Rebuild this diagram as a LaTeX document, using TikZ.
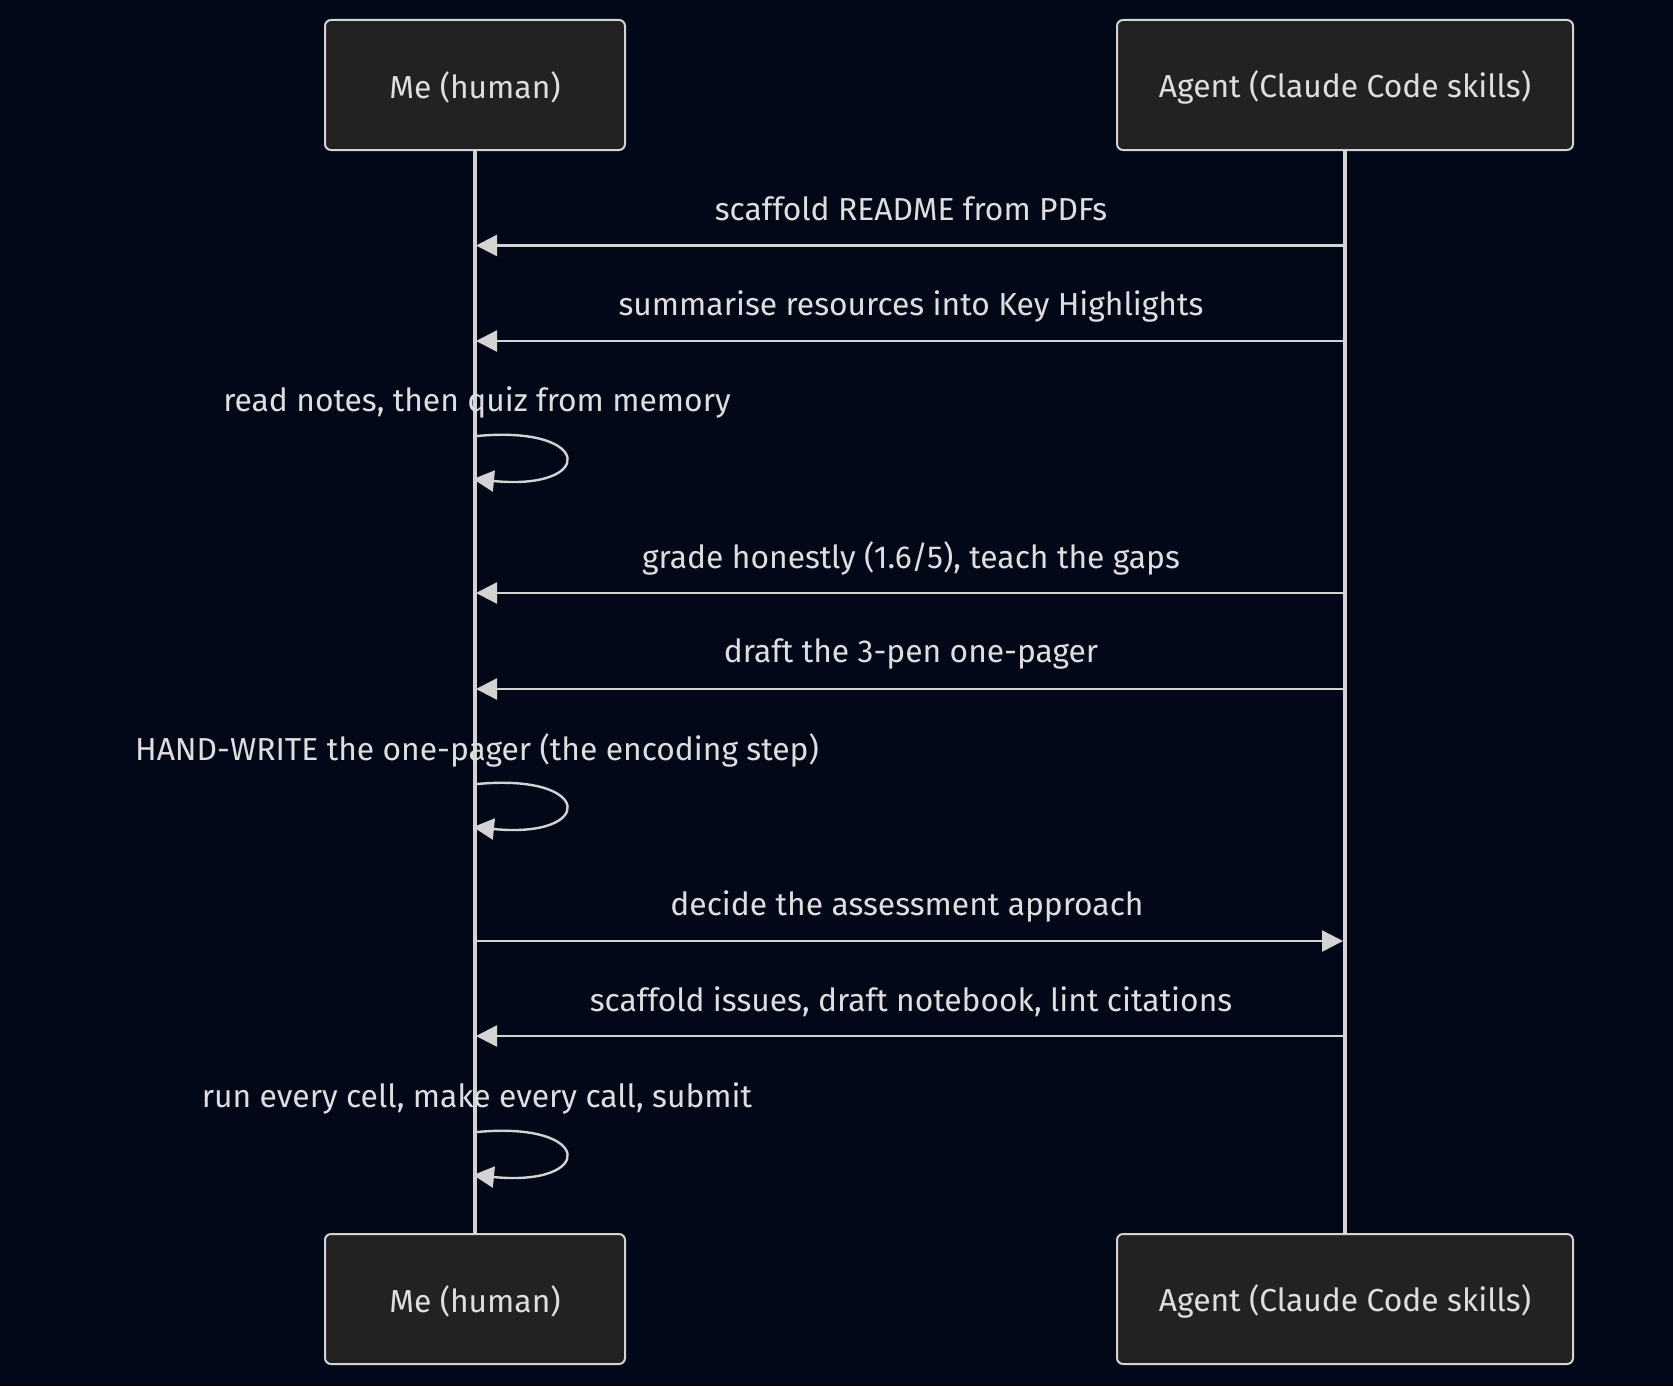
\documentclass[tikz,border=0pt]{standalone}
\usepackage{fontspec}
\setmainfont{Fira Sans}
\usetikzlibrary{arrows.meta}
\definecolor{bg}{RGB}{2,8,23}
\definecolor{boxfill}{RGB}{34,34,34}
\definecolor{ink}{RGB}{211,211,211}
\definecolor{txt}{RGB}{222,222,222}
\tikzset{
  px/.style={x=0.5pt,y=-0.5pt},
  actor/.style={draw=ink,line width=1pt,fill=boxfill,rounded corners=3pt,minimum height=65pt},
  life/.style={draw=ink,line width=1.6pt},
  msg/.style={draw=ink,line width=1.2pt,-{Triangle[length=10.5pt,width=10.5pt]}},
  lbl/.style={text=txt,font=\fontsize{15.9}{18}\selectfont,inner sep=0pt,anchor=center}
}
\begin{document}
\begin{tikzpicture}[px]
\fill[bg] (0,0) rectangle (1673,1386);
\useasboundingbox (0,0) rectangle (1673,1386);
% actors
\node[actor,minimum width=150pt] (meT) at (475,85) {};
\node[actor,minimum width=228pt] (agT) at (1345,85) {};
\node[actor,minimum width=150pt] (meB) at (475,1299) {};
\node[actor,minimum width=228pt] (agB) at (1345,1299) {};
\node[lbl] (meTl) at (475,87) {Me (human)};
\node[lbl] (agTl) at (1345,87) {Agent (Claude Code skills)};
\node[lbl] (meBl) at (475,1301) {Me (human)};
\node[lbl] (agBl) at (1345,1301) {Agent (Claude Code skills)};
% lifelines
\draw[life] (meT.south) -- (meB.north);
\draw[life] (agT.south) -- (agB.north);
% message coordinates
\coordinate (a1) at (1344,245.5); \coordinate (b1) at (476,245.5);
\coordinate (a2) at (1344,341); \coordinate (b2) at (476,341);
\coordinate (a4) at (1344,593); \coordinate (b4) at (476,593);
\coordinate (a5) at (1344,689); \coordinate (b5) at (476,689);
\coordinate (a7) at (476,941); \coordinate (b7) at (1343,941);
\coordinate (a8) at (1344,1036); \coordinate (b8) at (476,1036);
\draw[msg] (a1) -- (b1);
\draw[msg] (a2) -- (b2);
\draw[msg] (a4) -- (b4);
\draw[msg] (a5) -- (b5);
\draw[msg] (a7) -- (b7);
\draw[msg] (a8) -- (b8);
\node[lbl] (t1) at (911,209) {scaffold README from PDFs};
\node[lbl] (t2) at (911,306) {summarise resources into Key Highlights};
\node[lbl] (t4) at (911,558) {grade honestly (1.6/5), teach the gaps};
\node[lbl] (t5) at (911,654) {draft the 3-pen one-pager};
\node[lbl] (t7) at (907,906) {decide the assessment approach};
\node[lbl] (t8) at (911,1002) {scaffold issues, draft notebook, lint citations};
% self messages
\node[lbl] (t3) at (477,402) {read notes, then quiz from memory};
\node[lbl] (t6) at (477,750) {HAND-WRITE the one-pager (the encoding step)};
\node[lbl] (t9) at (477,1098) {run every cell, make every call, submit};
\coordinate (s3) at (477,436); \coordinate (e3) at (473,479);
\coordinate (s6) at (477,784); \coordinate (e6) at (473,827);
\coordinate (s9) at (477,1132); \coordinate (e9) at (473,1175);
\draw[msg] (s3) .. controls ++(118,-11) and ++(122,12) .. (e3);
\draw[msg] (s6) .. controls ++(118,-11) and ++(122,12) .. (e6);
\draw[msg] (s9) .. controls ++(118,-11) and ++(122,12) .. (e9);
\end{tikzpicture}
\end{document}
